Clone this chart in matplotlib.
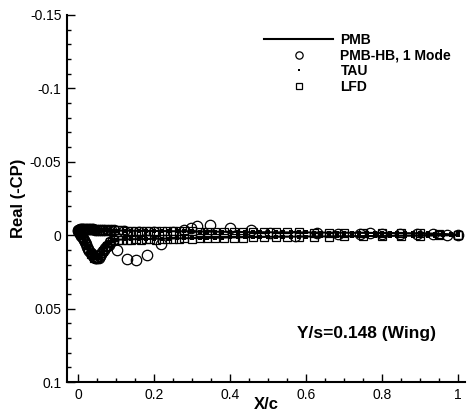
import numpy as np
import matplotlib
matplotlib.use('Agg')
import matplotlib.pyplot as plt
from matplotlib.ticker import MultipleLocator

plt.rcParams['font.family'] = ['Liberation Sans', 'DejaVu Sans']

### PMB (line): same stations on lower and upper surface
x_pmb = [0.0, 0.001, 0.003, 0.006, 0.01, 0.015, 0.02, 0.025, 0.03, 0.035, 0.04, 0.045,
         0.05, 0.055, 0.06, 0.07, 0.08, 0.09, 0.10, 0.12, 0.15, 0.18, 0.21, 0.25, 0.30,
         0.35, 0.40, 0.45, 0.50, 0.55, 0.60, 0.65, 0.70, 0.75, 0.80, 0.85, 0.90, 0.95, 1.0]
cp_pmb_lo = [-0.003, -0.0028, -0.002, -0.0008, 0.0008, 0.0031, 0.0057, 0.0084, 0.0108,
             0.0128, 0.0144, 0.0153, 0.0156, 0.0147, 0.0131, 0.0083, 0.0053, 0.0038, 0.0031,
             0.0029, 0.0027, 0.0026, 0.0024, 0.0022, 0.002, 0.0018, 0.0015, 0.0013, 0.0011,
             0.001, 0.0009, 0.0008, 0.0007, 0.0006, 0.0005, 0.0004, 0.0003, 0.0002, -0.0001]
cp_pmb_up = [-0.003, -0.0034, -0.0038, -0.0041, -0.0042, -0.0041, -0.004, -0.004, -0.0039,
             -0.0038, -0.0037, -0.0036, -0.0036, -0.0035, -0.0035, -0.0034, -0.0033, -0.0033,
             -0.0032, -0.0031, -0.003, -0.0029, -0.0029, -0.0027, -0.0026, -0.0024, -0.0023,
             -0.0021, -0.002, -0.0019, -0.0019, -0.0018, -0.0017, -0.0016, -0.0015, -0.0014,
             -0.0013, -0.001, -0.0003]

### TAU (small filled squares)
x_tau = [0.0, 0.001, 0.002, 0.004, 0.006, 0.008, 0.01, 0.013, 0.016, 0.019, 0.022, 0.025,
         0.028, 0.031, 0.034, 0.037, 0.04, 0.043, 0.046, 0.049, 0.052, 0.055, 0.058, 0.062,
         0.066, 0.07, 0.075, 0.08, 0.085, 0.09, 0.095, 0.1,
         0.12, 0.14, 0.16, 0.18, 0.2, 0.22, 0.24, 0.26, 0.28, 0.3, 0.32, 0.34, 0.36, 0.38,
         0.4, 0.42, 0.44, 0.46, 0.48, 0.5, 0.52, 0.54, 0.56, 0.58, 0.6, 0.62, 0.64, 0.66,
         0.68, 0.7, 0.72, 0.74, 0.76, 0.78, 0.8, 0.82, 0.84, 0.86, 0.88, 0.9, 0.92, 0.94,
         0.96, 0.98, 1.0]
cp_tau_lo = [-0.003, -0.0028, -0.0024, -0.0016, -0.0008, 0.0, 0.0008, 0.0022, 0.0036, 0.0052,
             0.0068, 0.0084, 0.0098, 0.0112, 0.0124, 0.0135, 0.0144, 0.015, 0.0155, 0.0156,
             0.0153, 0.0146, 0.0135, 0.0118, 0.0099, 0.0082, 0.0065, 0.0052, 0.0043, 0.0037,
             0.0033, 0.003,
             0.0029, 0.0028, 0.0027, 0.0026, 0.0025, 0.0024, 0.0023, 0.0022, 0.0021, 0.002,
             0.0019, 0.0018, 0.0017, 0.0016, 0.0015, 0.0014, 0.0013, 0.0013, 0.0012, 0.0011,
             0.0011, 0.001, 0.001, 0.0009, 0.0009, 0.0008, 0.0008, 0.0007, 0.0007, 0.0007,
             0.0006, 0.0006, 0.0006, 0.0005, 0.0005, 0.0005, 0.0004, 0.0004, 0.0004, 0.0003,
             0.0003, 0.0003, 0.0002, 0.0002, 0.0002]
cp_tau_up = [-0.003, -0.0033, -0.0036, -0.0039, -0.0041, -0.0042, -0.0042, -0.0042, -0.0041,
             -0.0041, -0.004, -0.004, -0.0039, -0.0039, -0.0038, -0.0038, -0.0037, -0.0037,
             -0.0036, -0.0036, -0.0035, -0.0035, -0.0035, -0.0034, -0.0034, -0.0034, -0.0033,
             -0.0033, -0.0033, -0.0032, -0.0032, -0.0032,
             -0.0031, -0.0031, -0.003, -0.003, -0.0029, -0.0029, -0.0028, -0.0027, -0.0027,
             -0.0026, -0.0025, -0.0025, -0.0024, -0.0023, -0.0023, -0.0022, -0.0022, -0.0021,
             -0.0021, -0.002, -0.002, -0.002, -0.0019, -0.0019, -0.0019, -0.0018, -0.0018,
             -0.0018, -0.0017, -0.0017, -0.0017, -0.0016, -0.0016, -0.0016, -0.0015, -0.0015,
             -0.0014, -0.0014, -0.0013, -0.0013, -0.0012, -0.0011, -0.001, -0.0008, -0.0005]

### LFD (open squares)
x_lfd = [0.0, 0.004, 0.008, 0.013, 0.02, 0.027, 0.035, 0.043, 0.05, 0.058, 0.066, 0.075,
         0.085, 0.095,
         0.105, 0.115, 0.128, 0.14, 0.152, 0.165, 0.178, 0.19, 0.205, 0.22, 0.235, 0.25,
         0.265, 0.28, 0.3, 0.32, 0.34, 0.36, 0.385, 0.41, 0.435, 0.46, 0.49, 0.52, 0.55,
         0.58, 0.62, 0.66, 0.7, 0.75, 0.8, 0.85, 0.9, 0.95, 1.0]
cp_lfd_lo = [-0.003, -0.0015, 0.0, 0.002, 0.0058, 0.0095, 0.013, 0.0152, 0.0156, 0.0138,
             0.0105, 0.0072, 0.0048, 0.0036,
             0.0033, 0.0031, 0.0036, 0.003, 0.0028, 0.0032, 0.0027, 0.0026, 0.003, 0.0025,
             0.0024, 0.0027, 0.0023, 0.0022, 0.0024, 0.002, 0.0019, 0.0021, 0.0017, 0.0016,
             0.0018, 0.0015, 0.0014, 0.0013, 0.0012, 0.0011, 0.001, 0.0009, 0.0008, 0.0007,
             0.0006, 0.0005, 0.0004, 0.0002, 0.0]
cp_lfd_up = [-0.003, -0.0036, -0.004, -0.0042, -0.0041, -0.004, -0.0039, -0.0038, -0.0037,
             -0.0036, -0.0035, -0.0035, -0.0034, -0.0034,
             -0.0033, -0.0033, -0.0032, -0.0032, -0.0031, -0.0031, -0.003, -0.003, -0.0029,
             -0.0029, -0.0028, -0.0028, -0.0027, -0.0027, -0.0026, -0.0025, -0.0024, -0.0024,
             -0.0023, -0.0022, -0.0022, -0.0021, -0.002, -0.002, -0.0019, -0.0019, -0.0018,
             -0.0018, -0.0017, -0.0016, -0.0015, -0.0014, -0.0013, -0.001, -0.0003]

### PMB-HB, 1 Mode (open circles)
x_hb_lo = [0.0, 0.002, 0.004, 0.006, 0.009, 0.012, 0.015, 0.018, 0.021, 0.024, 0.027, 0.03,
           0.033, 0.036, 0.039, 0.042, 0.045, 0.048, 0.051, 0.054, 0.057, 0.06, 0.064,
           0.068, 0.072, 0.076, 0.081, 0.084, 0.093, 0.103, 0.128, 0.152, 0.182, 0.217]
cp_hb_lo = [-0.003, -0.0024, -0.0016, -0.0008, 0.0004, 0.0017, 0.0031, 0.0046, 0.0062,
            0.0077, 0.0092, 0.0106, 0.0119, 0.0131, 0.0141, 0.0149, 0.0155, 0.0158, 0.0157,
            0.0152, 0.0143, 0.0131, 0.0115, 0.0099, 0.0085, 0.0074, 0.0064, 0.0045, 0.0034,
            0.0102, 0.0159, 0.0172, 0.0132, 0.006]
x_hb_up = [0.001, 0.003, 0.005, 0.008, 0.011, 0.014, 0.017, 0.02, 0.024, 0.028, 0.032,
           0.036, 0.04, 0.045, 0.05, 0.055, 0.06, 0.066, 0.072, 0.079, 0.086, 0.094,
           0.12, 0.16, 0.2, 0.25, 0.28, 0.298, 0.314, 0.347, 0.4, 0.455, 0.505, 0.571,
           0.628, 0.684, 0.742, 0.768, 0.799, 0.847, 0.891, 0.934, 0.97, 1.0]
cp_hb_up = [-0.0034, -0.0038, -0.004, -0.0042, -0.0043, -0.0043, -0.0042, -0.0042, -0.0041,
            -0.0041, -0.004, -0.004, -0.0039, -0.0038, -0.0038, -0.0037, -0.0036, -0.0036,
            -0.0035, -0.0034, -0.0034, -0.0033,
            -0.003, -0.0025, -0.002, -0.002, -0.0035, -0.0052, -0.006, -0.0068, -0.0048,
            -0.0035, -0.0015, 0.0007, -0.0012, -0.001, -0.0008, -0.0012, -0.001, -0.0008,
            -0.0006, -0.0005, -0.0003, 0.0]

fig = plt.figure(figsize=(4.69, 4.19), dpi=100)
ax = fig.add_axes([67/469, 1-382/419, 398/469, 367/419])

x_line = x_pmb[::-1] + x_pmb
cp_line = cp_pmb_lo[::-1] + cp_pmb_up
ax.plot(x_line, cp_line, '-', color='black', lw=1.5, label='PMB', zorder=3)
ax.plot(x_hb_lo + x_hb_up, cp_hb_lo + cp_hb_up, 'o', mfc='none', mec='black', ms=7.5,
        mew=0.9, label='PMB-HB, 1 Mode', zorder=2)
ax.plot(x_tau + x_tau, cp_tau_lo + cp_tau_up, 's', color='black', ms=3.0, mew=0,
        label='TAU', zorder=4)
ax.plot(x_lfd + x_lfd, cp_lfd_lo + cp_lfd_up, 's', mfc='none', mec='black', ms=5.5,
        mew=0.9, label='LFD', zorder=2)

ax.set_xlim(-0.029, 1.018)
ax.set_ylim(0.1, -0.15)
ax.xaxis.set_major_locator(MultipleLocator(0.2))
ax.xaxis.set_minor_locator(MultipleLocator(0.05))
ax.yaxis.set_major_locator(MultipleLocator(0.05))
ax.yaxis.set_minor_locator(MultipleLocator(0.01))
ax.xaxis.set_major_formatter(plt.FuncFormatter(lambda v, p: '%g' % round(v, 3)))
ax.yaxis.set_major_formatter(plt.FuncFormatter(lambda v, p: '%g' % round(v, 3)))
ax.tick_params(which='both', direction='in', top=False, right=False, width=1.0,
               labelsize=10)
ax.tick_params(which='major', length=6, pad=4)
ax.tick_params(which='minor', length=3)
for s in ['top', 'right']:
    ax.spines[s].set_visible(False)
for s in ['left', 'bottom']:
    ax.spines[s].set_linewidth(1.5)

ax.set_xlabel('X/c', fontsize=12, fontweight='bold', labelpad=-3)
ax.set_ylabel('Real (-CP)', fontsize=12, fontweight='bold')
ax.yaxis.set_label_coords(-0.103, 0.5)

ax.text(0.576, 0.0668, 'Y/s=0.148 (Wing)', fontsize=12.5, fontweight='bold',
        va='center', ha='left')

leg = ax.legend(loc='upper left', bbox_to_anchor=(0.495, 0.951), frameon=False,
                borderpad=0, borderaxespad=0, handlelength=5.0, handletextpad=0.5,
                labelspacing=0.12, markerscale=0.7,
                prop={'weight': 'bold', 'size': 10})

fig.savefig('out.png', dpi=100)
